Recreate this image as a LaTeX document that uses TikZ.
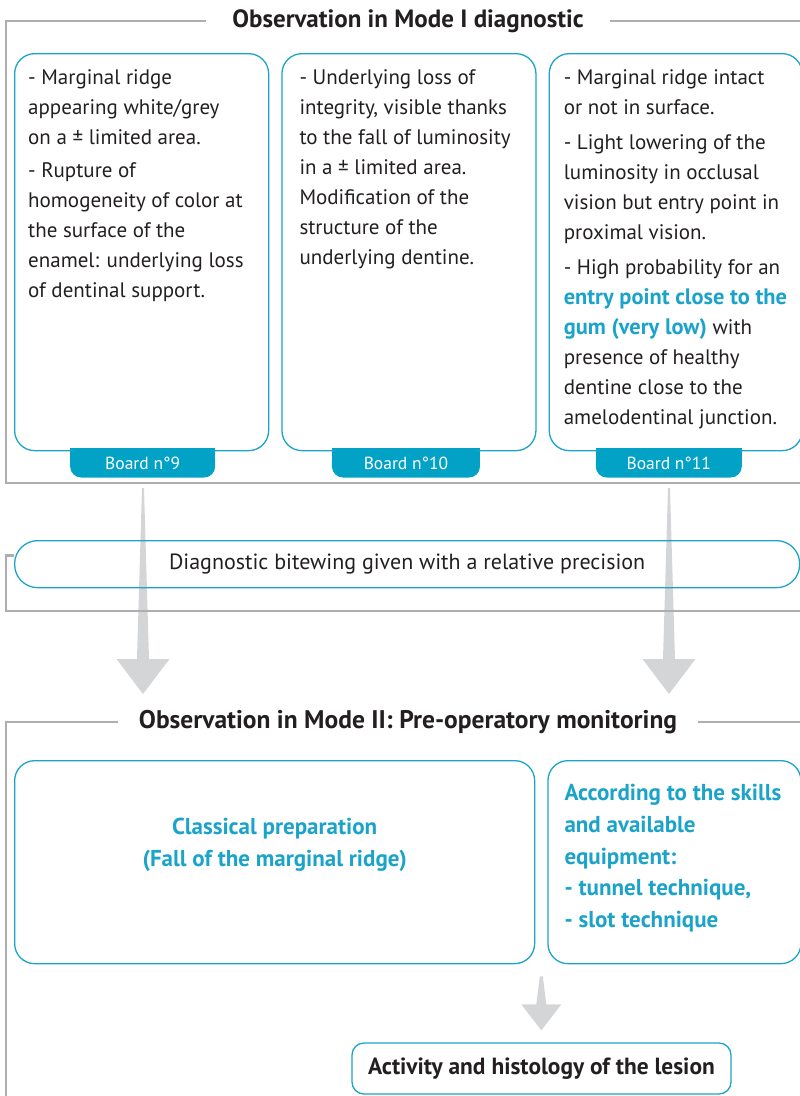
\documentclass[tikz,border=0pt]{standalone}
\usepackage{fontspec}
\setmainfont{PT Sans}
\usetikzlibrary{positioning, calc, backgrounds}
\definecolor{mcyan}{HTML}{1BA3C9}
\definecolor{mtab}{HTML}{02A1C6}
\definecolor{mframe}{HTML}{AEAEB1}
\definecolor{marrow}{HTML}{D4D5D7}
\definecolor{mdark}{HTML}{231F20}
\tikzstyle{frameline} = [line width=2.7pt, draw=mframe]
\tikzstyle{heading} = [inner xsep=26pt, inner ysep=0pt, text=mdark, font=\fontsize{25}{29}\selectfont\bfseries]
\tikzstyle{card} = [draw=mcyan, line width=1.3pt, rounded corners=20pt, anchor=north west, inner sep=0pt]
\tikzstyle{boardtab} = [fill=mtab, text=white, rounded corners=11pt, minimum height=29pt, inner sep=0pt, font=\fontsize{17.5}{20}\selectfont]
\tikzstyle{blurb} = [anchor=north west, align=left, inner sep=0pt, text=mdark, font=\fontsize{21}{30}\selectfont]
\tikzstyle{hint} = [inner sep=0pt, text=mcyan, font=\fontsize{23}{31.75}\selectfont\bfseries]
\tikzstyle{pill} = [draw=mcyan, line width=1.3pt, rounded corners=23pt, inner sep=0pt, text=mdark]
\newcommand{\blockarrow}[6]{%
  \fill[marrow] ($(#1)+(-#3,0)$) -- ($(#1)+(#3,0)$) -- ($(#2)+(#4,#6)$) -- ($(#2)+(#5,#6)$)
    -- (#2) -- ($(#2)+(-#5,#6)$) -- ($(#2)+(-#4,#6)$) -- cycle;}
\newcommand{\hl}[1]{{\color{mcyan}\fontsize{22.4}{30}\selectfont\bfseries #1}}

\begin{document}
\begin{tikzpicture}[x=1pt, y=1pt, node distance=12pt]
\useasboundingbox (0,0) rectangle (800,-1096);
% gray arrows go first, behind everything
\coordinate (a9) at (143,-488);
\coordinate (a9tip) at (143,-694);
\coordinate (a11) at (669,-488);
\coordinate (a11tip) at (669,-694);
\blockarrow{a9}{a9tip}{1}{6}{26.5}{35}
\blockarrow{a11}{a11tip}{1}{6}{26.5}{35}

% mode I
\node (title1) [heading] at (408,-21) {Observation in Mode I diagnostic};
\node (card1) [card, minimum width=254pt, minimum height=397pt] at (14,-53) {};
\node (card2) [card, minimum width=254pt, minimum height=397pt, right = of card1] {};
\node (card3) [card, minimum width=253pt, minimum height=397pt, right = of card2] {};
\node (tab9) [boardtab, minimum width=145pt, below = -3pt of card1.south, xshift=1pt] {Board n°9};
\node (tab10) [boardtab, minimum width=148pt, below = -3pt of card2.south, xshift=-3pt] {Board n°10};
\node (tab11) [boardtab, minimum width=146pt, below = -3pt of card3.south, xshift=-7pt] {Board n°11};
\begin{scope}[on background layer]
\foreach \b in {tab9, tab10, tab11}
  \fill[mtab] (\b.north west) rectangle (\b.east);
\end{scope}
\node (txt1) [blurb] at ($(card1.north west)+(14,-16)$) {- Marginal ridge\\appearing white/grey\\on a ± limited area.\\[3pt]- Rupture of\\homogeneity of color at\\the surface of the\\enamel: underlying loss\\of dentinal support.};
\node (txt2) [blurb] at ($(card2.north west)+(18,-16)$) {- Underlying loss of\\integrity, visible thanks\\to the fall of luminosity\\in a ± limited area.\\Modification of the\\structure of the\\underlying dentine.};
\node (txt3) [blurb] at ($(card3.north west)+(15,-16)$) {- Marginal ridge intact\\or not in surface.\\[5pt]- Light lowering of the\\luminosity in occlusal\\vision but entry point in\\proximal vision.\\[5pt]- High probability for an\\\hl{entry point close to the}\\\hl{gum (very low)} with\\presence of healthy\\dentine close to the\\amelodentinal junction.};
\draw [frameline] (title1.west) -| (6,-483) -- (800,-483);
\draw [frameline] (title1.east) -- ++(300,0);

% bitewing
\node (bitewing) [pill, anchor=north west, minimum width=785pt, minimum height=47pt, font=\fontsize{22}{26}\selectfont] at (14,-540) {Diagnostic bitewing given with a relative precision};
\draw [frameline] ($(bitewing.west)+(0,9)$) -| (6,-611) -- (800,-611);

% mode II
\node (title2) [heading, inner xsep=21pt, font=\fontsize{25.5}{29}\selectfont\bfseries] at (408,-722) {Observation in Mode II: Pre-operatory monitoring};
\node (card4) [card, minimum width=520pt, minimum height=203pt] at (14,-760) {};
\node (card5) [card, minimum width=253pt, minimum height=203pt, right = of card4] {};
\node (prep) [hint, align=center] at ($(card4.center)+(0,17)$) {Classical preparation\\(Fall of the marginal ridge)};
\node (skills) [hint, anchor=north west, align=left] at ($(card5.north west)+(17,-24)$) {According to the skills\\and available\\equipment:\\- tunnel technique,\\- slot technique};
\draw [frameline] (title2.west) -| (6,-1096);
\draw [frameline] (title2.east) -- ++(300,0);

% lesion
\node (lesion) [pill, rounded corners=12pt, minimum width=379pt, minimum height=51pt, font=\fontsize{23.4}{27}\selectfont\bfseries] at (541.5,-1068.5) {Activity and histology of the lesion};
\coordinate (a3) at ($(card4.south east)!0.5!(card5.south west)+(0,-12)$);
\coordinate (a3tip) at ($(a3 |- lesion.north)+(0,12)$);
\blockarrow{a3}{a3tip}{1.5}{5}{20}{26}
\end{tikzpicture}
\end{document}
